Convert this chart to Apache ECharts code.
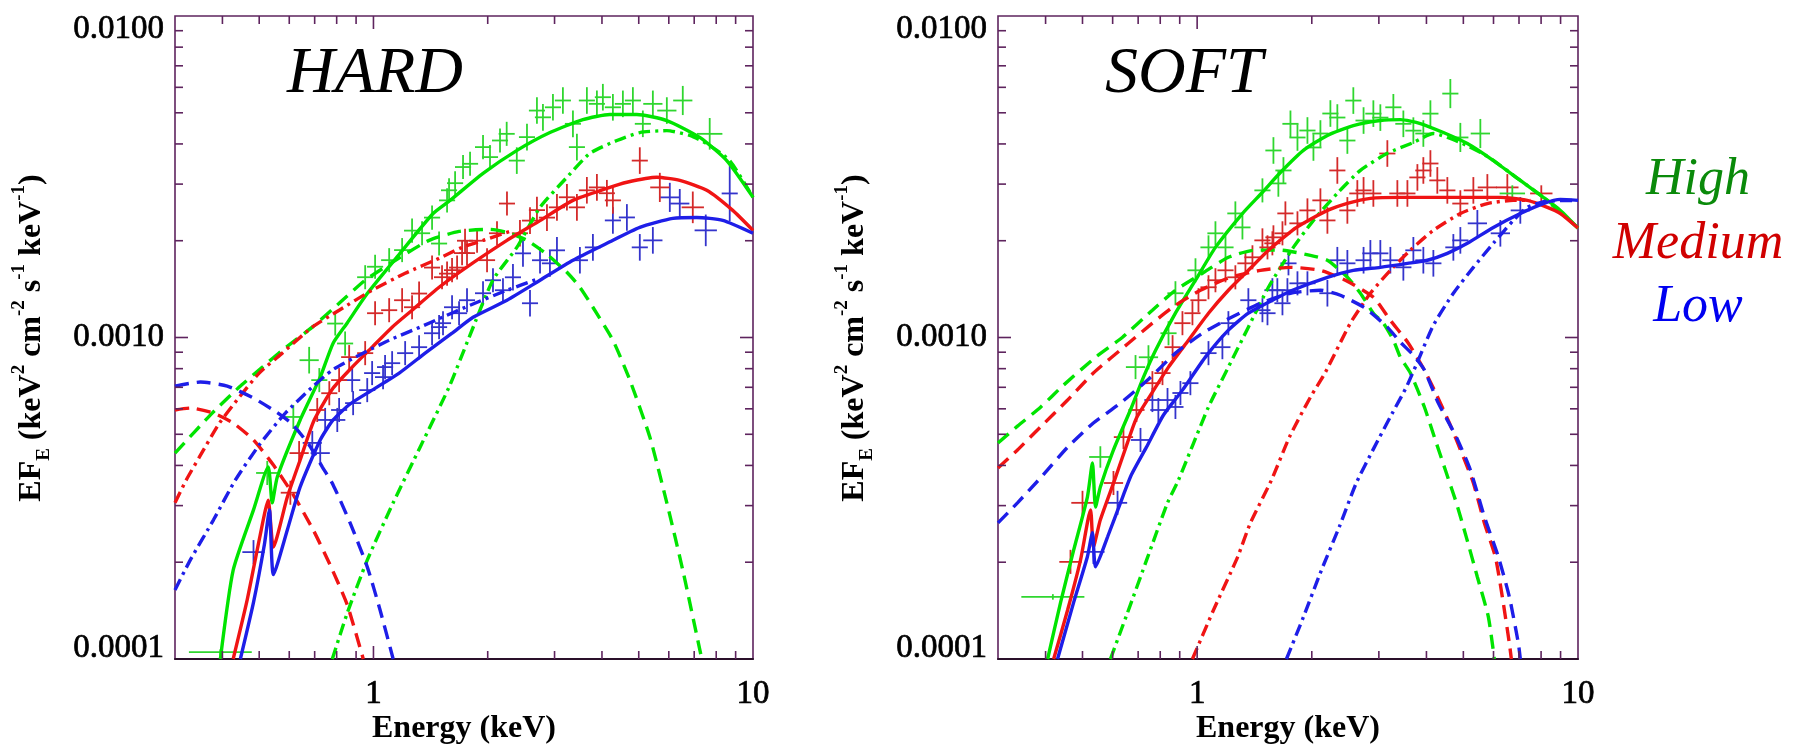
<!DOCTYPE html>
<html><head><meta charset="utf-8">
<script src="https://cdn.jsdelivr.net/npm/echarts@6/dist/echarts.min.js"></script>
<style>html,body{margin:0;padding:0;background:#fff}#c{width:1803px;height:749px}</style>
</head><body><div id="c"></div><script>
// ---------- axis ranges & tick values ----------
const X_MIN = 0.3, X_MAX = 10, Y_MIN = 1e-4, Y_MAX = 1e-2;
const xTickValues = [0.4,0.5,0.6,0.7,0.8,0.9,1,2,3,4,5,6,7,8,9];
const xMajorTicks = [1];
const yTickValues = [2e-4,3e-4,4e-4,5e-4,6e-4,7e-4,8e-4,9e-4,1e-3,2e-3,3e-3,4e-3,5e-3,6e-3,7e-3,8e-3,9e-3];
const yMajorTicks = [1e-3];
const panelTitles = ['HARD', 'SOFT'];
const stateLabels = ['High', 'Medium', 'Low'];

// ---------- HARD panel model curves [E keV, EF_E] ----------
const hardHighTotal = [[0.395,1.00e-4],[0.427,1.89e-4],[0.483,2.91e-4],[0.528,3.96e-4],[0.541,3.06e-4],[0.558,3.68e-4],[0.641,5.54e-4],[0.724,7.53e-4],[0.783,9.60e-4],[0.853,1.11e-3],[0.963,1.37e-3],[1.176,1.83e-3],[1.436,2.43e-3],[1.592,2.67e-3],[1.944,3.24e-3],[2.389,3.82e-3],[2.917,4.34e-3],[3.563,4.76e-3],[4.197,4.94e-3],[4.942,4.94e-3],[5.929,4.73e-3],[7.240,4.19e-3],[8.527,3.55e-3],[10,2.73e-3]];
const hardHighSoft = [[0.3,4.37e-4],[0.376,5.82e-4],[0.443,7.01e-4],[0.51,8.09e-4],[0.575,9.13e-4],[0.69,1.077e-3],[0.812,1.278e-3],[0.951,1.507e-3],[1.176,1.776e-3],[1.402,2.005e-3],[1.681,2.138e-3],[2.028,2.169e-3],[2.248,2.123e-3],[2.538,2.005e-3],[2.865,1.814e-3],[3.234,1.595e-3],[3.499,1.433e-3],[3.786,1.242e-3],[4.274,9.81e-4],[4.737,7.37e-4],[5.348,4.90e-4],[5.929,3.06e-4],[6.531,1.89e-4],[7.328,1.0e-4]];
const hardHighHard = [[0.779,1.0e-4],[0.853,1.39e-4],[0.963,2.03e-4],[1.127,3.06e-4],[1.327,4.56e-4],[1.582,7.01e-4],[1.786,1.0e-3],[2.065,1.51e-3],[2.389,1.91e-3],[2.747,2.54e-3],[3.234,3.15e-3],[3.718,3.74e-3],[4.379,4.10e-3],[5.032,4.34e-3],[5.929,4.40e-3],[6.814,4.25e-3],[7.554,4.01e-3],[8.683,3.55e-3],[10,2.73e-3]];
const hardMedTotal = [[0.427,1.0e-4],[0.465,1.53e-4],[0.503,2.43e-4],[0.528,3.12e-4],[0.545,2.23e-4],[0.593,3.19e-4],[0.641,4.16e-4],[0.698,5.54e-4],[0.783,6.96e-4],[0.879,8.09e-4],[0.992,9.33e-4],[1.12,1.077e-3],[1.264,1.216e-3],[1.489,1.433e-3],[1.712,1.618e-3],[2.248,2.005e-3],[2.747,2.31e-3],[3.354,2.67e-3],[4.121,2.91e-3],[4.653,3.04e-3],[5.58,3.15e-3],[6.413,3.08e-3],[7.554,2.87e-3],[8.843,2.485e-3],[10,2.154e-3]];
const hardMedSoft = [[0.3,5.95e-4],[0.329,6.03e-4],[0.379,5.82e-4],[0.427,5.42e-4],[0.483,4.80e-4],[0.545,4.01e-4],[0.615,3.24e-4],[0.694,2.52e-4],[0.769,1.96e-4],[0.853,1.475e-4],[0.94,1.0e-4]];
const hardMedHard = [[0.3,3.06e-4],[0.321,3.60e-4],[0.348,4.25e-4],[0.393,5.42e-4],[0.443,6.52e-4],[0.50,7.75e-4],[0.575,8.94e-4],[0.69,1.077e-3],[0.812,1.216e-3],[0.992,1.403e-3],[1.212,1.584e-3],[1.489,1.763e-3],[1.712,1.907e-3],[1.944,2.005e-3],[2.29,2.138e-3]];
const hardLowTotal = [[0.446,1.0e-4],[0.483,1.50e-4],[0.516,2.27e-4],[0.532,2.91e-4],[0.545,1.83e-4],[0.593,2.52e-4],[0.641,3.43e-4],[0.724,4.80e-4],[0.783,5.54e-4],[0.868,6.21e-4],[0.992,6.86e-4],[1.169,7.75e-4],[1.368,8.94e-4],[1.611,1.031e-3],[1.83,1.156e-3],[2.248,1.306e-3],[2.747,1.507e-3],[3.354,1.739e-3],[4.121,1.963e-3],[5.032,2.20e-3],[6.149,2.346e-3],[7.109,2.363e-3],[8.324,2.313e-3],[10,2.109e-3]];
const hardLowSoft = [[0.3,7.06e-4],[0.35,7.27e-4],[0.412,7.06e-4],[0.483,6.48e-4],[0.555,5.86e-4],[0.611,5.38e-4],[0.677,4.63e-4],[0.733,3.96e-4],[0.783,3.48e-4],[0.868,2.65e-4],[0.963,1.935e-4],[1.041,1.42e-4],[1.127,1.0e-4]];
const hardLowHard = [[0.3,1.64e-4],[0.329,2.03e-4],[0.379,2.71e-4],[0.4325,3.60e-4],[0.50,4.63e-4],[0.586,5.82e-4],[0.69,7.01e-4],[0.779,7.92e-4],[0.917,8.81e-4],[1.10,9.81e-4],[1.327,1.077e-3],[1.498,1.148e-3],[1.797,1.26e-3],[2.248,1.403e-3],[2.747,1.529e-3]];

// ---------- SOFT panel model curves ----------
const softHighTotal = [[0.405,1.0e-4],[0.438,1.50e-4],[0.474,2.18e-4],[0.515,3.19e-4],[0.531,4.07e-4],[0.541,2.97e-4],[0.557,3.43e-4],[0.603,4.47e-4],[0.668,5.95e-4],[0.723,7.53e-4],[0.778,9.13e-4],[0.877,1.19e-3],[0.99,1.507e-3],[1.117,1.907e-3],[1.315,2.43e-3],[1.484,2.83e-3],[1.654,3.26e-3],[1.901,3.82e-3],[2.198,4.25e-3],[2.571,4.56e-3],[3.027,4.73e-3],[3.417,4.76e-3],[3.856,4.63e-3],[4.431,4.34e-3],[5.123,4.01e-3],[5.995,3.55e-3],[7.056,3.08e-3],[8.11,2.73e-3],[8.99,2.485e-3],[10,2.19e-3]];
const softHighSoft = [[0.3,4.70e-4],[0.3375,5.30e-4],[0.388,6.07e-4],[0.443,7.06e-4],[0.541,8.68e-4],[0.637,1.002e-3],[0.763,1.216e-3],[0.877,1.403e-3],[1.033,1.584e-3],[1.208,1.776e-3],[1.422,1.87e-3],[1.654,1.87e-3],[1.983,1.80e-3],[2.198,1.739e-3],[2.48,1.539e-3],[2.683,1.373e-3],[2.902,1.19e-3],[3.083,1.108e-3],[3.275,9.81e-4],[3.417,8.68e-4],[3.63,7.75e-4],[3.95,6.08e-4],[4.196,4.90e-4],[4.485,3.87e-4],[4.793,3.06e-4],[5.092,2.39e-4],[5.442,1.80e-4],[5.816,1.353e-4],[6.031,1.0e-4]];
const softHighHard = [[0.592,1.0e-4],[0.656,1.39e-4],[0.741,2.07e-4],[0.836,3.06e-4],[0.893,3.60e-4],[1.071,6.08e-4],[1.208,8.09e-4],[1.363,1.077e-3],[1.539,1.433e-3],[1.789,1.907e-3],[2.02,2.313e-3],[2.334,2.81e-3],[2.683,3.31e-3],[3.158,3.74e-3],[3.696,4.04e-3],[4.171,4.31e-3],[4.91,4.04e-3],[5.781,3.66e-3],[7.056,3.08e-3],[8.11,2.73e-3],[10,2.19e-3]];
const softMedTotal = [[0.42,1.0e-4],[0.457,1.42e-4],[0.494,2.03e-4],[0.525,2.91e-4],[0.534,2.23e-4],[0.557,2.71e-4],[0.607,3.60e-4],[0.656,4.70e-4],[0.693,5.62e-4],[0.763,6.76e-4],[0.841,8.09e-4],[0.949,9.81e-4],[1.071,1.19e-3],[1.208,1.403e-3],[1.363,1.618e-3],[1.539,1.867e-3],[1.779,2.154e-3],[1.901,2.265e-3],[2.198,2.485e-3],[2.48,2.613e-3],[2.85,2.708e-3],[3.417,2.728e-3],[4.171,2.728e-3],[5.123,2.728e-3],[6.254,2.728e-3],[7.362,2.67e-3],[8.31,2.54e-3],[8.99,2.43e-3],[10,2.19e-3]];
const softMedSoft = [[0.3,3.93e-4],[0.3375,4.47e-4],[0.388,5.27e-4],[0.457,6.39e-4],[0.534,7.75e-4],[0.66,9.60e-4],[0.763,1.108e-3],[0.862,1.242e-3],[1.02,1.403e-3],[1.223,1.539e-3],[1.466,1.618e-3],[1.758,1.653e-3],[2.107,1.618e-3],[2.45,1.507e-3],[2.902,1.334e-3],[3.216,1.131e-3],[3.586,9.60e-4],[3.95,7.92e-4],[4.196,6.86e-4],[4.595,5.42e-4],[5.0,4.25e-4],[5.312,3.53e-4],[5.677,2.65e-4],[6.067,2.08e-4],[6.329,1.56e-4],[6.603,1.12e-4],[6.683,1.0e-4]];
const softMedHard = [[0.972,1.0e-4],[1.104,1.42e-4],[1.276,2.07e-4],[1.38,2.65e-4],[1.567,3.60e-4],[1.747,4.90e-4],[1.983,6.52e-4],[2.172,7.80e-4],[2.525,1.108e-3],[2.85,1.373e-3],[3.216,1.618e-3],[3.63,1.87e-3],[4.171,2.154e-3],[4.91,2.43e-3],[5.781,2.61e-3],[6.764,2.67e-3],[7.497,2.67e-3]];
const softLowTotal = [[0.43,1.0e-4],[0.474,1.50e-4],[0.515,2.08e-4],[0.531,2.47e-4],[0.541,1.935e-4],[0.582,2.40e-4],[0.629,3.06e-4],[0.672,3.74e-4],[0.736,4.56e-4],[0.816,5.74e-4],[0.915,6.86e-4],[1.051,8.69e-4],[1.208,1.054e-3],[1.363,1.19e-3],[1.576,1.306e-3],[1.779,1.403e-3],[2.198,1.539e-3],[2.571,1.618e-3],[3.027,1.653e-3],[3.565,1.70e-3],[4.022,1.739e-3],[4.539,1.827e-3],[5.123,1.963e-3],[5.995,2.20e-3],[7.056,2.43e-3],[8.11,2.61e-3],[8.99,2.69e-3],[10,2.67e-3]];
const softLowSoft = [[0.3,2.65e-4],[0.3375,3.06e-4],[0.388,3.66e-4],[0.457,4.56e-4],[0.534,5.42e-4],[0.629,6.25e-4],[0.75,7.47e-4],[0.877,8.94e-4],[1.033,1.031e-3],[1.187,1.131e-3],[1.466,1.278e-3],[1.758,1.373e-3],[2.107,1.403e-3],[2.377,1.353e-3],[2.765,1.233e-3],[3.158,1.077e-3],[3.417,9.67e-4],[3.696,8.81e-4],[3.95,7.92e-4],[4.298,6.25e-4],[4.793,4.90e-4],[5.217,3.87e-4],[5.677,2.77e-4],[6.178,2.08e-4],[6.603,1.56e-4],[6.972,1.12e-4],[7.056,1.0e-4]];
const softLowHard = [[1.716,1.0e-4],[1.901,1.35e-4],[2.12,1.89e-4],[2.363,2.58e-4],[2.618,3.53e-4],[2.92,4.56e-4],[3.255,5.82e-4],[3.543,7.01e-4],[3.787,8.38e-4],[4.171,1.092e-3],[4.707,1.373e-3],[5.312,1.653e-3],[5.995,1.963e-3],[6.764,2.313e-3],[7.362,2.54e-3],[8.21,2.65e-3],[10,2.67e-3]];

// ---------- observed spectra: [E keV, EF_E, relative E half-width, relative flux error] ----------
const hardHighData = [[0.395,1.05e-4,0.21,0.02],[0.525,3.79e-4,0.07,0.09],[0.615,5.66e-4,0.06,0.09],[0.677,8.50e-4,0.06,0.1],[0.72,7.37e-4,0.05,0.09],[0.793,1.105e-3,0.05,0.09],[0.842,9.58e-4,0.05,0.09],[0.951,1.54e-3,0.05,0.09],[1.01,1.66e-3,0.05,0.09],[1.10,1.74e-3,0.05,0.09],[1.19,1.87e-3,0.05,0.09],[1.264,2.15e-3,0.05,0.09],[1.343,2.11e-3,0.05,0.09],[1.427,2.36e-3,0.05,0.09],[1.489,1.96e-3,0.05,0.09],[1.563,2.67e-3,0.05,0.09],[1.582,2.87e-3,0.05,0.09],[1.641,3.02e-3,0.05,0.09],[1.722,3.39e-3,0.05,0.09],[1.797,3.47e-3,0.05,0.09],[1.944,3.91e-3,0.05,0.09],[2.028,3.64e-3,0.05,0.09],[2.155,4.10e-3,0.05,0.09],[2.244,4.30e-3,0.05,0.09],[2.386,3.55e-3,0.05,0.1],[2.538,4.20e-3,0.05,0.1],[2.696,5.08e-3,0.05,0.1],[2.796,4.84e-3,0.05,0.1],[2.971,5.20e-3,0.05,0.1],[3.156,5.46e-3,0.05,0.1],[3.354,4.62e-3,0.05,0.1],[3.436,3.91e-3,0.05,0.1],[3.65,5.46e-3,0.05,0.1],[3.879,5.33e-3,0.05,0.1],[4.022,5.59e-3,0.05,0.1],[4.274,5.20e-3,0.05,0.1],[4.541,5.33e-3,0.05,0.1],[4.825,5.46e-3,0.05,0.1],[5.126,4.62e-3,0.05,0.1],[5.447,5.33e-3,0.06,0.1],[5.929,5.08e-3,0.06,0.1],[6.531,5.46e-3,0.06,0.11],[7.69,4.30e-3,0.08,0.12]];
const hardMedData = [[0.604,3.29e-4,0.06,0.09],[0.637,4.37e-4,0.06,0.09],[0.711,5.95e-4,0.05,0.09],[0.765,6.71e-4,0.05,0.09],[0.812,7.37e-4,0.05,0.09],[0.863,8.69e-4,0.05,0.09],[0.951,8.94e-4,0.05,0.09],[1.01,1.19e-3,0.05,0.09],[1.10,1.216e-3,0.05,0.09],[1.19,1.306e-3,0.05,0.09],[1.264,1.242e-3,0.05,0.09],[1.319,1.37e-3,0.05,0.09],[1.427,1.65e-3,0.05,0.09],[1.516,1.54e-3,0.05,0.09],[1.563,1.58e-3,0.05,0.09],[1.611,1.62e-3,0.05,0.09],[1.661,1.65e-3,0.05,0.09],[1.712,1.83e-3,0.05,0.09],[1.743,2.00e-3,0.05,0.09],[1.764,1.83e-3,0.05,0.09],[1.875,2.00e-3,0.05,0.09],[1.992,1.74e-3,0.05,0.09],[2.116,2.11e-3,0.05,0.09],[2.248,2.61e-3,0.05,0.09],[2.432,2.11e-3,0.05,0.1],[2.585,2.31e-3,0.05,0.1],[2.696,2.49e-3,0.05,0.1],[2.865,2.36e-3,0.05,0.1],[3.044,2.54e-3,0.05,0.1],[3.234,2.73e-3,0.05,0.1],[3.436,2.54e-3,0.05,0.1],[3.65,2.87e-3,0.05,0.1],[3.879,2.93e-3,0.05,0.1],[4.121,2.81e-3,0.05,0.1],[4.274,2.67e-3,0.05,0.1],[5.032,3.55e-3,0.05,0.1],[5.682,2.93e-3,0.06,0.11],[6.94,2.54e-3,0.07,0.12]];
const hardLowData = [[0.483,2.15e-4,0.07,0.09],[0.69,4.70e-4,0.06,0.09],[0.724,4.37e-4,0.06,0.09],[0.746,5.54e-4,0.05,0.09],[0.803,5.54e-4,0.05,0.09],[0.812,5.95e-4,0.05,0.09],[0.879,7.37e-4,0.05,0.09],[0.884,6.25e-4,0.05,0.09],[0.963,6.86e-4,0.05,0.09],[0.992,7.75e-4,0.05,0.09],[1.06,7.53e-4,0.05,0.09],[1.073,8.09e-4,0.05,0.09],[1.12,8.32e-4,0.05,0.09],[1.212,8.94e-4,0.05,0.09],[1.319,9.33e-4,0.05,0.09],[1.427,1.031e-3,0.05,0.09],[1.489,1.077e-3,0.05,0.09],[1.525,1.108e-3,0.05,0.09],[1.611,1.242e-3,0.05,0.09],[1.681,1.19e-3,0.05,0.09],[1.764,1.306e-3,0.05,0.09],[1.944,1.373e-3,0.05,0.09],[2.065,1.507e-3,0.05,0.09],[2.194,1.403e-3,0.05,0.09],[2.331,1.539e-3,0.05,0.1],[2.477,1.827e-3,0.05,0.1],[2.585,1.278e-3,0.05,0.1],[2.747,1.739e-3,0.05,0.1],[2.917,1.701e-3,0.05,0.1],[3.044,1.867e-3,0.05,0.1],[3.499,1.739e-3,0.05,0.1],[3.786,1.907e-3,0.05,0.1],[4.274,2.313e-3,0.05,0.1],[4.653,2.363e-3,0.05,0.1],[5.032,1.907e-3,0.05,0.1],[5.447,2.005e-3,0.06,0.1],[6.037,2.728e-3,0.06,0.11],[6.413,2.61e-3,0.06,0.11],[7.508,2.154e-3,0.07,0.12],[8.683,2.806e-3,0.05,0.22]];
const softHighData = [[0.418,1.56e-4,0.21,0.02],[0.557,4.25e-4,0.07,0.08],[0.689,8.09e-4,0.06,0.09],[0.745,8.68e-4,0.06,0.09],[0.841,1.031e-3,0.05,0.09],[0.877,1.373e-3,0.05,0.09],[0.99,1.618e-3,0.05,0.09],[1.071,1.907e-3,0.05,0.09],[1.117,2.109e-3,0.05,0.09],[1.187,1.907e-3,0.05,0.09],[1.26,2.432e-3,0.05,0.09],[1.315,2.20e-3,0.05,0.09],[1.484,2.868e-3,0.05,0.09],[1.586,3.817e-3,0.05,0.1],[1.634,3.015e-3,0.05,0.1],[1.685,3.308e-3,0.05,0.1],[1.758,4.62e-3,0.05,0.1],[1.834,4.189e-3,0.05,0.1],[1.948,4.404e-3,0.05,0.1],[2.02,3.90e-3,0.05,0.1],[2.107,4.31e-3,0.05,0.1],[2.238,4.974e-3,0.05,0.1],[2.334,4.833e-3,0.05,0.1],[2.48,4.099e-3,0.05,0.1],[2.571,5.457e-3,0.05,0.1],[2.735,4.73e-3,0.05,0.1],[2.902,4.97e-3,0.05,0.1],[3.027,4.83e-3,0.05,0.1],[3.275,5.20e-3,0.05,0.1],[3.479,4.62e-3,0.05,0.1],[3.696,4.40e-3,0.05,0.1],[3.926,4.31e-3,0.05,0.1],[4.097,4.97e-3,0.05,0.1],[4.622,5.737e-3,0.05,0.11],[4.91,4.19e-3,0.05,0.11],[5.541,4.31e-3,0.06,0.11],[6.723,2.806e-3,0.08,0.06]];
const softMedData = [[0.465,2.005e-4,0.07,0.09],[0.50,3.06e-4,0.07,0.09],[0.603,3.527e-4,0.06,0.09],[0.6405,4.90e-4,0.06,0.09],[0.693,5.95e-4,0.05,0.09],[0.763,7.21e-4,0.05,0.09],[0.811,7.75e-4,0.05,0.09],[0.862,9.33e-4,0.05,0.09],[0.915,1.108e-3,0.05,0.09],[0.972,1.19e-3,0.05,0.09],[1.008,1.306e-3,0.05,0.09],[1.071,1.433e-3,0.05,0.09],[1.117,1.507e-3,0.05,0.09],[1.187,1.618e-3,0.05,0.09],[1.26,1.539e-3,0.05,0.09],[1.339,1.701e-3,0.05,0.09],[1.397,1.776e-3,0.05,0.09],[1.484,2.005e-3,0.05,0.09],[1.53,1.907e-3,0.05,0.09],[1.576,1.963e-3,0.05,0.09],[1.586,2.049e-3,0.05,0.09],[1.675,2.109e-3,0.05,0.09],[1.705,2.432e-3,0.05,0.09],[1.834,2.265e-3,0.05,0.09],[1.948,2.485e-3,0.05,0.09],[2.107,2.67e-3,0.05,0.09],[2.198,2.313e-3,0.05,0.1],[2.334,3.308e-3,0.05,0.1],[2.48,2.485e-3,0.05,0.1],[2.634,2.806e-3,0.05,0.1],[2.735,2.868e-3,0.05,0.1],[2.902,2.806e-3,0.05,0.1],[3.158,3.735e-3,0.05,0.1],[3.355,2.806e-3,0.05,0.1],[3.565,2.806e-3,0.05,0.1],[3.787,3.147e-3,0.05,0.1],[3.926,3.308e-3,0.05,0.1],[4.097,3.477e-3,0.05,0.1],[4.272,3.081e-3,0.05,0.1],[4.539,2.868e-3,0.05,0.1],[4.91,2.61e-3,0.05,0.1],[5.312,2.868e-3,0.06,0.1],[5.781,2.93e-3,0.06,0.1],[6.523,2.93e-3,0.07,0.1],[8.01,2.806e-3,0.07,0.06]];
const softLowData = [[0.534,2.154e-4,0.07,0.09],[0.618,3.06e-4,0.06,0.09],[0.71,4.80e-4,0.06,0.09],[0.763,6.39e-4,0.05,0.09],[0.791,5.95e-4,0.05,0.09],[0.836,6.39e-4,0.05,0.09],[0.877,6.08e-4,0.05,0.09],[0.904,6.72e-4,0.05,0.09],[0.96,7.21e-4,0.05,0.09],[1.071,8.94e-4,0.05,0.09],[1.165,9.33e-4,0.05,0.09],[1.208,1.108e-3,0.05,0.09],[1.363,1.306e-3,0.05,0.09],[1.484,1.216e-3,0.05,0.09],[1.53,1.19e-3,0.05,0.09],[1.576,1.403e-3,0.05,0.09],[1.624,1.403e-3,0.05,0.09],[1.675,1.278e-3,0.05,0.09],[1.726,1.403e-3,0.05,0.09],[1.737,1.701e-3,0.05,0.09],[1.834,1.474e-3,0.05,0.09],[1.948,1.474e-3,0.05,0.09],[2.198,1.373e-3,0.05,0.1],[2.334,1.739e-3,0.05,0.1],[2.48,1.701e-3,0.05,0.1],[2.735,1.739e-3,0.05,0.1],[2.85,1.827e-3,0.05,0.1],[3.027,1.827e-3,0.05,0.1],[3.216,1.739e-3,0.05,0.1],[3.479,1.653e-3,0.05,0.1],[3.696,1.867e-3,0.05,0.1],[3.926,1.739e-3,0.05,0.1],[4.171,1.701e-3,0.05,0.1],[4.707,1.907e-3,0.05,0.1],[4.91,2.005e-3,0.05,0.1],[5.442,2.265e-3,0.06,0.1],[6.254,2.109e-3,0.06,0.1],[7.056,2.485e-3,0.06,0.1]];

// ---------- styling ----------
const LINE = {High:'#00e400', Medium:'#f01414', Low:'#1e1ee8'};
const PT = {High:'#2fd62f', Medium:'#d42a2a', Low:'#3434cc'};
const LABEL = {High:'#0a8a0a', Medium:'#d00000', Low:'#0000f0'};
const AXIS_COLOR = '#5e245e';
const SERIF = '"Liberation Serif", "DejaVu Serif", serif';
const DASH = [14, 8], DASHDOT = [12, 5, 3, 5];

const panels = [
  {grid:{left:175, top:16, width:578, height:643},
   curves:[[hardHighTotal,'High','solid'],[hardHighSoft,'High',DASH],[hardHighHard,'High',DASHDOT],
           [hardMedTotal,'Medium','solid'],[hardMedSoft,'Medium',DASH],[hardMedHard,'Medium',DASHDOT],
           [hardLowTotal,'Low','solid'],[hardLowSoft,'Low',DASH],[hardLowHard,'Low',DASHDOT]],
   data:[[hardLowData,'Low'],[hardMedData,'Medium'],[hardHighData,'High']]},
  {grid:{left:998, top:16, width:580, height:643},
   curves:[[softHighTotal,'High','solid'],[softHighSoft,'High',DASH],[softHighHard,'High',DASHDOT],
           [softMedTotal,'Medium','solid'],[softMedSoft,'Medium',DASH],[softMedHard,'Medium',DASHDOT],
           [softLowTotal,'Low','solid'],[softLowSoft,'Low',DASH],[softLowHard,'Low',DASHDOT]],
   data:[[softLowData,'Low'],[softMedData,'Medium'],[softHighData,'High']]}
];

const xTickData = xTickValues.map(v => [v, 1e-3, xMajorTicks.indexOf(v) >= 0 ? 1 : 0]);
const yTickData = yTickValues.map(v => [1, v, yMajorTicks.indexOf(v) >= 0 ? 1 : 0]);

function crossRender(color) {
  return function (params, api) {
    const E = api.value(0), F = api.value(1), rx = api.value(2), ry = api.value(3);
    const a = api.coord([E / (1 + rx), F]), b = api.coord([E * (1 + rx), F]);
    const c = api.coord([E, F / (1 + ry)]), d = api.coord([E, F * (1 + ry)]);
    const st = {stroke: color, lineWidth: 1.8};
    return {type:'group', children:[
      {type:'line', shape:{x1:a[0], y1:a[1], x2:b[0], y2:b[1]}, style:st},
      {type:'line', shape:{x1:c[0], y1:c[1], x2:d[0], y2:d[1]}, style:st}
    ]};
  };
}
function xTickRender(params, api) {
  const v = api.value(0), len = api.value(2) ? 13 : 8;
  const b = api.coord([v, Y_MIN]), t = api.coord([v, Y_MAX]);
  const st = {stroke: AXIS_COLOR, lineWidth: 1.6};
  return {type:'group', children:[
    {type:'line', shape:{x1:b[0], y1:b[1], x2:b[0], y2:b[1] - len}, style:st},
    {type:'line', shape:{x1:t[0], y1:t[1], x2:t[0], y2:t[1] + len}, style:st}
  ]};
}
function yTickRender(params, api) {
  const v = api.value(1), len = api.value(2) ? 13 : 8;
  const l = api.coord([X_MIN, v]), r = api.coord([X_MAX, v]);
  const st = {stroke: AXIS_COLOR, lineWidth: 1.6};
  return {type:'group', children:[
    {type:'line', shape:{x1:l[0], y1:l[1], x2:l[0] + len, y2:l[1]}, style:st},
    {type:'line', shape:{x1:r[0], y1:r[1], x2:r[0] - len, y2:r[1]}, style:st}
  ]};
}

const TL = {fontFamily:SERIF, fontSize:33, color:'#000', textBorderColor:'#000', textBorderWidth:0.7};
const grids = [], xAxes = [], yAxes = [], series = [];
panels.forEach((p, gi) => {
  grids.push(Object.assign({show:true, borderColor:AXIS_COLOR, borderWidth:1.6, backgroundColor:'transparent'}, p.grid));
  xAxes.push({type:'log', logBase:10, gridIndex:gi, min:X_MIN, max:X_MAX,
    axisLine:{show:true, lineStyle:{color:'#2a102a', width:2}}, axisTick:{show:false}, splitLine:{show:false},
    axisLabel:Object.assign({margin:19,
      formatter: v => Math.abs(v - 1) < 1e-6 ? '1' : (Math.abs(v - 10) < 1e-5 ? '10' : '')}, TL)});
  yAxes.push({type:'log', logBase:10, gridIndex:gi, min:Y_MIN, max:Y_MAX,
    axisLine:{show:false}, axisTick:{show:false}, splitLine:{show:false},
    axisLabel:{margin:11, color:'#000', fontFamily:SERIF, fontSize:33,
      formatter: v => {
        const lg = Math.log10(v), k = Math.round(lg);
        if (Math.abs(lg - k) > 1e-4) return '';
        if (k === -2) return '{t|0.0100}';
        if (k === -3) return '{m|0.0010}';
        if (k === -4) return '{b|0.0001}';
        return '';
      },
      rich:{t:Object.assign({padding:[26,0,0,0]}, TL),
            m:Object.assign({}, TL),
            b:Object.assign({padding:[0,0,22,0]}, TL)}}});
  p.data.forEach(([d, st]) => series.push({type:'custom', xAxisIndex:gi, yAxisIndex:gi, data:d,
    encode:{x:0, y:1}, renderItem:crossRender(PT[st]), clip:true, z:2, silent:true}));
  p.curves.forEach(([d, st, type]) => series.push({type:'line', xAxisIndex:gi, yAxisIndex:gi, data:d,
    symbol:'none', smooth:0.2, clip:true, z:3, silent:true,
    lineStyle:{color:LINE[st], width:3.4, type:type, cap:'butt'}}));
  series.push({type:'custom', xAxisIndex:gi, yAxisIndex:gi, data:xTickData, encode:{x:0, y:1},
    renderItem:xTickRender, clip:false, z:5, silent:true});
  series.push({type:'custom', xAxisIndex:gi, yAxisIndex:gi, data:yTickData, encode:{x:0, y:1},
    renderItem:yTickRender, clip:false, z:5, silent:true});
});

const yName = '{a|EF}{s|E}{a| (keV}{p|2}{a| cm}{p|-2}{a| s}{p|-1}{a| keV}{p|-1}{a|)}';
const yRich = {
  a:{fontFamily:SERIF, fontWeight:'bold', fontSize:32, lineHeight:44, color:'#000', verticalAlign:'middle'},
  s:{fontFamily:SERIF, fontWeight:'bold', fontSize:19, lineHeight:19, color:'#000', verticalAlign:'bottom'},
  p:{fontFamily:SERIF, fontWeight:'bold', fontSize:19, lineHeight:19, color:'#000', verticalAlign:'top'}
};
function txt(x, y, text, font, color, align, rot) {
  return {type:'text', x:x, y:y, rotation:rot || 0, silent:true, z:10,
    style:{text:text, font:font, fill:color, align:align || 'center', verticalAlign:'middle',
           textAlign:align || 'center', textVerticalAlign:'middle'}};
}
const graphics = [
  {type:'text', x:32, y:338, rotation:Math.PI / 2, silent:true, z:10,
   style:{text:yName, rich:yRich, align:'center', verticalAlign:'middle', textAlign:'center', textVerticalAlign:'middle'}},
  {type:'text', x:855, y:338, rotation:Math.PI / 2, silent:true, z:10,
   style:{text:yName, rich:yRich, align:'center', verticalAlign:'middle', textAlign:'center', textVerticalAlign:'middle'}},
  txt(464, 729, 'Energy (keV)', 'bold 32px ' + SERIF, '#000'),
  txt(1288, 729, 'Energy (keV)', 'bold 32px ' + SERIF, '#000'),
  txt(287, 75, panelTitles[0], 'italic 66px ' + SERIF, '#000', 'left'),
  txt(1105, 75, panelTitles[1], 'italic 66px ' + SERIF, '#000', 'left'),
  txt(1698, 180, stateLabels[0], 'italic 52px ' + SERIF, LABEL.High),
  txt(1698, 244, stateLabels[1], 'italic 52px ' + SERIF, LABEL.Medium),
  txt(1698, 307, stateLabels[2], 'italic 52px ' + SERIF, LABEL.Low)
];

const chart = echarts.init(document.getElementById('c'), null, {renderer:'canvas'});
chart.setOption({
  animation:false, backgroundColor:'#ffffff',
  grid:grids, xAxis:xAxes, yAxis:yAxes, series:series, graphic:graphics
});
</script></body></html>
